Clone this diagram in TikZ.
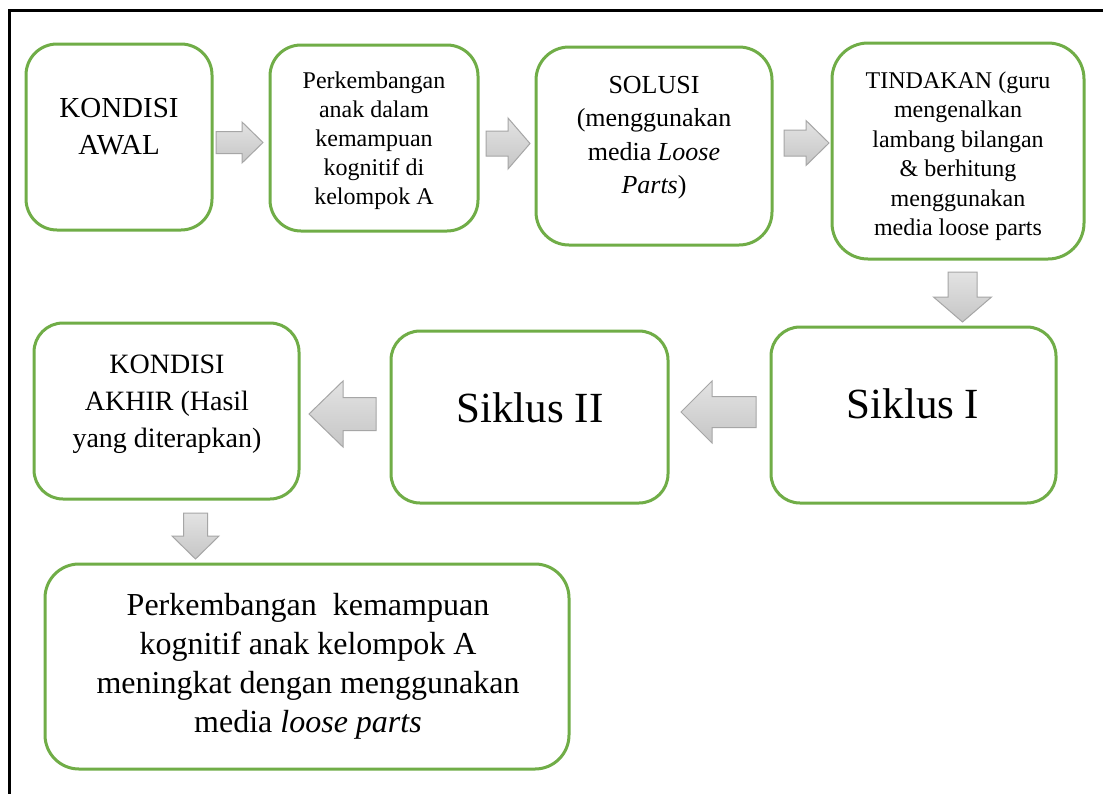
\documentclass[tikz,border=0pt]{standalone}
\usepackage{fontspec}
\setmainfont{LiberationSerif}[Extension=.ttf, UprightFont=*-Regular, ItalicFont=*-Italic, BoldFont=*-Bold, BoldItalicFont=*-BoldItalic]
\definecolor{boxgreen}{HTML}{70AD47}
\definecolor{arrowedge}{HTML}{A6A6A6}
\newcommand\HArrowShape[6]{\path[blockarrow] (#1,{#4-#5}) -- (#2,{#4-#5}) -- (#2,{#4-#6}) -- (#3,#4) -- (#2,{#4+#6}) -- (#2,{#4+#5}) -- (#1,{#4+#5}) -- cycle;}
\newcommand\VArrowShape[6]{\path[blockarrow] ({#4-#5},#1) -- ({#4-#5},#2) -- ({#4-#6},#2) -- (#4,#3) -- ({#4+#6},#2) -- ({#4+#5},#2) -- ({#4+#5},#1) -- cycle;}
\tikzset{
  gbox/.style={draw=boxgreen, line width=3pt, fill=white, inner sep=0pt},
  txt/.style={align=center, inner sep=0pt, text=black},
  blockarrow/.style={draw=arrowedge, line width=1pt, top color=gray!22, bottom color=gray!45, line join=miter},
}
\begin{document}
\begin{tikzpicture}[x=1pt, y=-1pt]
\useasboundingbox (0,0) rectangle (1103,793);
\fill[white] (0,0) rectangle (1103,793);
% frame
\draw[black, line width=2.5pt] (9.5,795) -- (9.5,10.5) -- (1105,10.5);

% boxes
\node[gbox, minimum width=186, minimum height=186, rounded corners=31] (b1) at (119,137) {};
\node[gbox, minimum width=208, minimum height=186, rounded corners=31] (b2) at (374,138) {};
\node[gbox, minimum width=236, minimum height=198, rounded corners=33] (b3) at (654,146) {};
\node[gbox, minimum width=252, minimum height=216, rounded corners=36] (b4) at (958,151) {};
\node[gbox, minimum width=285, minimum height=176, rounded corners=29] (s1) at (913.5,415) {};
\node[gbox, minimum width=277, minimum height=172, rounded corners=29] (s2) at (529.5,417) {};
\node[gbox, minimum width=265, minimum height=176, rounded corners=29] (akhir) at (166.5,411) {};
\node[gbox, minimum width=524, minimum height=205, rounded corners=34] (hasil) at (307,666.5) {};

% texts
\node[txt, anchor=north, font=\fontsize{29}{37}\selectfont] (t1) at (119,91.1) {\strut KONDISI\\AWAL};
\node[txt, anchor=north, font=\fontsize{24}{29}\selectfont] (t2) at (374,68.2) {\strut Perkembangan\\anak dalam\\kemampuan\\kognitif di\\kelompok A};
\node[txt, anchor=north, font=\fontsize{26}{33.5}\selectfont] (t3) at (654,69.55) {\strut SOLUSI\\(menggunakan\\media \textit{Loose}\\\textit{Parts})};
\node[txt, anchor=north, font=\fontsize{24}{29.5}\selectfont] (t4) at (958,67.35) {\strut TINDAKAN (guru\\mengenalkan\\lambang bilangan\\\& berhitung\\menggunakan\\media loose parts};
\node[txt, anchor=base, font=\fontsize{43}{50}\selectfont] (ts1) at (913,418) {Siklus I};
\node[txt, anchor=base, font=\fontsize{43}{50}\selectfont] (ts2) at (530,422.5) {Siklus II};
\node[txt, anchor=north, font=\fontsize{28}{37}\selectfont] (ta) at (167,347.1) {\strut KONDISI\\AKHIR (Hasil\\yang diterapkan)};
\node[txt, anchor=north, font=\fontsize{32}{39}\selectfont] (tb) at (308,587.7) {\strut Perkembangan~ kemampuan\\kognitif anak kelompok A\\meningkat dengan menggunakan\\media \textit{loose parts}};

% block arrows
\HArrowShape{216}{242}{263}{142.5}{11}{20.5}
\HArrowShape{486}{508}{530}{143.5}{12.5}{25.5}
\HArrowShape{784}{806}{829}{143}{13}{22.5}
\VArrowShape{272}{297}{322}{962.5}{14.5}{29}
\HArrowShape{756}{712}{681}{412}{15.5}{31}
\HArrowShape{376}{343}{309}{414}{16.5}{33}
\VArrowShape{513}{536}{559}{195.5}{12}{23.5}
\end{tikzpicture}
\end{document}
